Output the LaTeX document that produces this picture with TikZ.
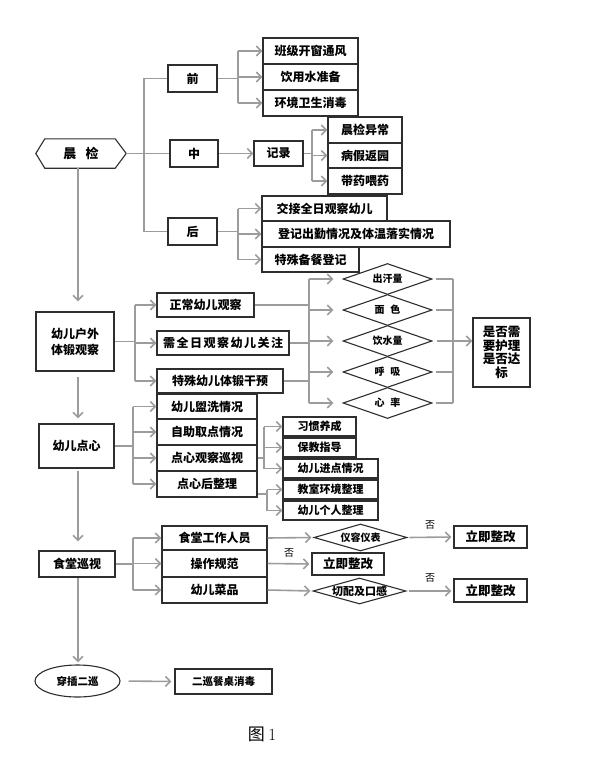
\documentclass[tikz,border=0pt]{standalone}
\usepackage{fontspec}
\newfontfamily\hei{Noto Sans CJK SC}
\usetikzlibrary{arrows.meta,shapes.geometric,calc}
\definecolor{lc}{HTML}{9C9C9C}
\definecolor{bc}{HTML}{2E2E2E}
\newcommand\fA{\hei\bfseries\fontsize{12}{14}\selectfont}
\newcommand\fB{\hei\bfseries\fontsize{10}{12}\selectfont}
\newcommand\fC{\hei\bfseries\fontsize{11}{13}\selectfont}
\newcommand\zb[1]{\makebox[0pt]{#1}}
\tikzset{
  box/.style={draw=bc, line width=1.1pt, rectangle, inner sep=0pt, font=\fA, align=center},
  dia/.style={draw=bc, line width=1.1pt, diamond, inner sep=0pt, aspect=3, font=\fB},
  con/.style={draw=lc, line width=1.6pt},
  arr/.style={con, -{Straight Barb[length=5pt,width=10pt,line width=1.6pt]}},
  lbl/.style={font=\hei\fontsize{10}{12}\selectfont, inner sep=0pt}
}
\begin{document}
\begin{tikzpicture}[x=1pt,y=-1pt]
\useasboundingbox (0,0) rectangle (600,768);
\fill[white] (0,0) rectangle (600,768);

% ---------- morning check ----------
\node[font=\hei\bfseries\fontsize{13}{15}\selectfont, minimum width=90pt, minimum height=29pt, inner sep=0pt] (cj) at (81,153.5) {晨\hspace{0.7em}检};
\draw[bc, line width=1.1pt] (cj.west) -- ([xshift=9pt]cj.north west) -- ([xshift=-11pt]cj.north east) -- (cj.east) -- ([xshift=-11pt]cj.south east) -- ([xshift=9pt]cj.south west) -- cycle;

\node[box, minimum width=49pt, minimum height=27pt] (q) at (192.5,78.5) {前};
\node[box, minimum width=48pt, minimum height=27pt] (z) at (194,153.5) {中};
\node[box, minimum width=49pt, minimum height=27pt] (h) at (192.5,231.5) {后};

\node[box, minimum width=95pt, minimum height=26pt] (a1) at (310.5,51) {班级开窗通风};
\node[box, minimum width=95pt, minimum height=26pt] (a2) at (310.5,77) {饮用水准备};
\node[box, minimum width=95pt, minimum height=26pt] (a3) at (310.5,103) {环境卫生消毒};

\node[box, minimum width=49pt, minimum height=25pt] (jl) at (278.5,153.5) {记录};
\node[box, minimum width=74pt, minimum height=26pt] (m1) at (365,130) {晨检异常};
\node[box, minimum width=74pt, minimum height=25pt] (m2) at (365,155.5) {病假返园};
\node[box, minimum width=74pt, minimum height=26pt] (m3) at (365,181) {带药喂药};

\node[box, minimum width=125pt, minimum height=25pt] (h1) at (324.5,208.5) {交接全日观察幼儿};
\node[box, minimum width=188pt, minimum height=26pt] (h2) at (356,234) {登记出勤情况及体温落实情况};
\node[box, minimum width=97pt, minimum height=25pt] (h3) at (310.5,259.5) {特殊备餐登记};

% ---------- outdoor ----------
\node[box, minimum width=78pt, minimum height=59pt, font=\hei\bfseries\fontsize{12}{16}\selectfont] (hw) at (75,341.5) {幼儿户外\\体锻观察};
\node[box, minimum width=97pt, minimum height=24pt] (o1) at (205.5,305) {正常幼儿观察};
\node[box, minimum width=132pt, minimum height=24pt] (o2) at (223,343) {需\kern1.5pt 全\kern1.5pt 日\kern1.5pt 观\kern1.5pt 察\kern1.5pt 幼\kern1.5pt 儿\kern1.5pt 关\kern1.5pt 注};
\node[box, minimum width=126pt, minimum height=24pt] (o3) at (220,381) {特殊幼儿体锻干预};

\node[dia, minimum width=89pt, minimum height=31pt] (d1) at (387.5,279) {\zb{出汗量}};
\node[dia, minimum width=89pt, minimum height=31pt] (d2) at (387.5,310) {\zb{面\hspace{0.6em}色}};
\node[dia, minimum width=89pt, minimum height=31pt] (d3) at (387.5,341) {\zb{饮水量}};
\node[dia, minimum width=89pt, minimum height=31pt] (d4) at (387.5,372) {\zb{呼\hspace{0.6em}吸}};
\node[dia, minimum width=89pt, minimum height=31pt] (d5) at (387.5,403) {\zb{心\hspace{0.6em}率}};

\node[box, minimum width=57pt, minimum height=69pt, font=\hei\bfseries\fontsize{12.5}{13.5}\selectfont] (sf) at (501.5,352.5) {是否需\\要护理\\是否达\\标};

% ---------- snack ----------
\node[box, minimum width=75pt, minimum height=44pt] (dx) at (76.5,446) {幼儿点心};
\node[box, minimum width=100pt, minimum height=25pt] (p1) at (207,406.5) {幼儿盥洗情况};
\node[box, minimum width=100pt, minimum height=26pt] (p2) at (207,432) {自助取点情况};
\node[box, minimum width=100pt, minimum height=26pt] (p3) at (207,458) {点心观察巡视};
\node[box, minimum width=100pt, minimum height=26pt] (p4) at (207,484) {点心后整理};

\node[box, font=\fC, minimum width=73pt, minimum height=19pt] (s1) at (319.5,426.5) {习惯养成};
\node[box, font=\fC, minimum width=73pt, minimum height=19pt] (s2) at (319.5,447.5) {保教指导};
\node[box, font=\fC, minimum width=95pt, minimum height=19pt] (s3) at (330.5,468.5) {幼儿进点情况};
\node[box, font=\fC, minimum width=95pt, minimum height=19pt] (s4) at (330.5,489.5) {教室环境整理};
\node[box, font=\fC, minimum width=95pt, minimum height=19pt] (s5) at (330.5,510.5) {幼儿个人整理};

% ---------- canteen ----------
\node[box, minimum width=76pt, minimum height=26pt] (st) at (77,564) {食堂巡视};
\node[box, minimum width=105pt, minimum height=24pt] (k1) at (214.5,538) {食堂工作人员};
\node[box, minimum width=105pt, minimum height=27pt] (k2) at (214.5,563.5) {操作规范};
\node[box, minimum width=105pt, minimum height=26pt] (k3) at (214.5,590) {幼儿菜品};

\node[dia, minimum width=93pt, minimum height=27pt, font=\fB] (y1) at (360.5,537.5) {\zb{仪容仪表}};
\node[dia, minimum width=93pt, minimum height=26pt, font=\fC] (y2) at (359.5,591) {\zb{切配及口感}};

\node[box, font=\hei\bfseries\fontsize{12.5}{14}\selectfont, minimum width=73pt, minimum height=22pt] (r1) at (490.5,537) {立即整改};
\node[box, font=\hei\bfseries\fontsize{12.5}{14}\selectfont, minimum width=72pt, minimum height=22pt] (r2) at (348,564) {立即整改};
\node[box, font=\hei\bfseries\fontsize{12.5}{14}\selectfont, minimum width=73pt, minimum height=23pt] (r3) at (490.5,590.5) {立即整改};

\node[lbl] (n1) at (430,525) {否};
\node[lbl] (n2) at (289,553) {否};
\node[lbl] (n3) at (430,578) {否};

% ---------- second round ----------
\node[draw=bc, line width=1.1pt, ellipse, inner sep=0pt, minimum width=85pt, minimum height=32pt, font=\hei\bfseries\fontsize{10.5}{12}\selectfont] (cc) at (77.5,681) {穿插二巡};
\node[box, font=\hei\bfseries\fontsize{10.5}{12}\selectfont, minimum width=97pt, minimum height=25pt] (xd) at (223.5,681.5) {二巡餐桌消毒};

\node[inner sep=0pt] (cap) at (262,734) {{\hei\fontsize{17}{20}\selectfont 图}\hspace{0.35em}{\fontsize{17}{20}\selectfont 1}};

% ---------- connectors ----------
\coordinate (tk) at (78,0);
\draw[arr, shorten >=10pt] (cj.south -| tk) -- (hw.north -| tk);
\draw[arr, shorten <=5pt, shorten >=5pt] (hw.south -| tk) -- (dx.north -| tk);
\draw[arr, shorten <=2pt, shorten >=9pt] (dx.south -| tk) -- (st.north -| tk);
\draw[arr, shorten >=2pt] (st.south -| tk) -- (cc.north -| tk);

\coordinate (b1) at (144,0);
\draw[con] (cj.east) -- (z.west);
\draw[con] (q.west) -- (q.west -| b1) -- (h.west -| b1) -- (h.west);

\coordinate (b2) at (238,0);
\draw[con] (q.east) -- (q.east -| b2);
\draw[con] (b2 |- a1.west) -- (b2 |- a3.west);
\foreach \n in {a1,a2,a3} \draw[arr] (b2 |- \n.west) -- (\n.west);

\draw[arr] (z.east) -- (jl.west);
\coordinate (b3) at (312,0);
\draw[con] (jl.east) -- (jl.east -| b3);
\draw[con] (b3 |- m1.west) -- (b3 |- m3.west);
\foreach \n in {m1,m2,m3} \draw[arr] (b3 |- \n.west) -- (\n.west);

\draw[con] (h.east) -- (h.east -| b2);
\draw[con] (b2 |- h1.west) -- (b2 |- h3.west);
\foreach \n in {h1,h2,h3} \draw[arr] (b2 |- \n.west) -- (\n.west);

\coordinate (b4) at (135,0);
\draw[con] (hw.east) -- (hw.east -| b4);
\draw[con] (b4 |- o1.west) -- (b4 |- o3.west);
\foreach \n in {o1,o2,o3} \draw[arr] (b4 |- \n.west) -- (\n.west);

\coordinate (b5) at (309,0);
\foreach \n in {o1,o2,o3} \draw[con] (\n.east) -- (\n.east -| b5);
\draw[con] (b5 |- d1.west) -- (b5 |- d5.west);
\foreach \n in {d1,d2,d3,d4,d5} \draw[arr, shorten >=9pt] (b5 |- \n.west) -- (\n.west);

\coordinate (b6) at (453,0);
\foreach \n in {d1,d2,d4,d5} \draw[con, shorten <=3pt] (\n.east) -- (\n.east -| b6);
\draw[con] (b6 |- d1.east) -- (b6 |- d5.east);
\draw[arr, shorten <=4pt] (d3.east) -- (d3.east -| sf.west);

\coordinate (b7) at (133,0);
\draw[con] (dx.east) -- (dx.east -| b7);
\draw[con] (b7 |- p1.west) -- (b7 |- p4.west);
\foreach \n in {p1,p2,p3,p4} \draw[arr] (b7 |- \n.west) -- (\n.west);

\coordinate (b8) at (264,0);
\draw[con] (p3.east) -- (p3.east -| b8);
\draw[con] (b8 |- s1.west) -- (b8 |- s3.west);
\foreach \n in {s1,s2,s3} \draw[arr] (b8 |- \n.west) -- (\n.west);

\coordinate (b9) at (267,0);
\draw[con] ([yshift=-10pt]p4.east) -- ([yshift=-10pt]p4.east -| b9);
\draw[con] (b9 |- s4.west) -- (b9 |- s5.west);
\foreach \n in {s4,s5} \draw[arr] (b9 |- \n.west) -- (\n.west);

\coordinate (b10) at (133,0);
\draw[con] (st.east) -- (st.east -| b10);
\draw[con] (b10 |- k1.west) -- (b10 |- k3.west);
\foreach \n in {k1,k2,k3} \draw[arr] (b10 |- \n.west) -- (\n.west);

\draw[arr, shorten >=2pt] (k1.east) -- (y1.west);
\draw[arr, shorten <=2pt, shorten >=2pt] (y1.east) -- (r1.west);
\draw[arr, shorten >=2pt] (k2.east) -- (r2.west);
\draw[arr, shorten >=2pt] (k3.east) -- (y2.west);
\draw[arr, shorten <=2pt, shorten >=2pt] (y2.east) -- (y2.east -| r3.west);

\draw[arr, shorten <=8pt, shorten >=3pt] (cc.east) -- (xd.west);
\end{tikzpicture}
\end{document}
